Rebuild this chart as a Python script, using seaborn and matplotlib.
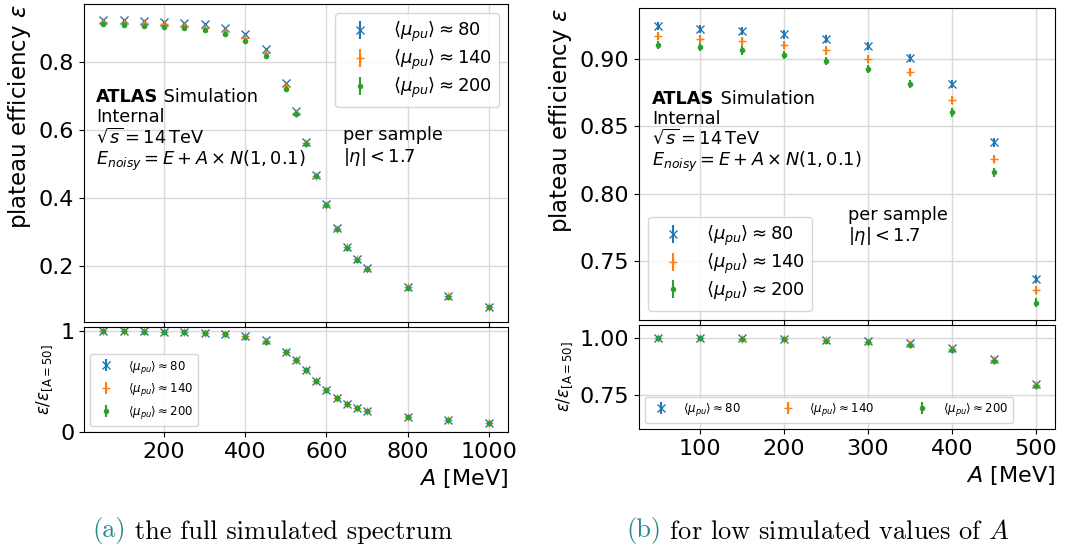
import matplotlib
matplotlib.use("Agg")
import matplotlib.pyplot as plt
import seaborn as sns
import numpy as np

# ---------------- data ----------------
A_MeV = [50, 100, 150, 200, 250, 300, 350, 400, 450, 500,
         525, 550, 575, 600, 625, 650, 675, 700, 800, 900, 1000]
eff_mu80 = [0.9243, 0.9226, 0.9206, 0.9183, 0.9149, 0.9097, 0.9005, 0.8817, 0.8380, 0.7364,
            0.656, 0.565, 0.467, 0.381, 0.310, 0.256, 0.219, 0.192, 0.138, 0.112, 0.079]
eff_mu140 = [0.9169, 0.9149, 0.9131, 0.9107, 0.9064, 0.9002, 0.8906, 0.8695, 0.8259, 0.7282,
             0.650, 0.560, 0.465, 0.379, 0.308, 0.254, 0.218, 0.191, 0.137, 0.110, 0.078]
eff_mu200 = [0.9107, 0.9087, 0.9064, 0.9032, 0.8988, 0.8923, 0.8812, 0.8603, 0.8157, 0.7190,
             0.647, 0.557, 0.463, 0.378, 0.307, 0.253, 0.217, 0.190, 0.135, 0.109, 0.078]
err_mu80 = [0.003, 0.003, 0.003, 0.003, 0.003, 0.003, 0.003, 0.003, 0.003, 0.003,
            0.003, 0.003, 0.003, 0.003, 0.003, 0.003, 0.003, 0.003, 0.003, 0.002, 0.002]
err_mu140 = [0.003, 0.003, 0.003, 0.003, 0.003, 0.003, 0.003, 0.003, 0.003, 0.003,
             0.003, 0.003, 0.003, 0.003, 0.003, 0.003, 0.003, 0.003, 0.003, 0.002, 0.002]
err_mu200 = [0.003, 0.003, 0.003, 0.003, 0.003, 0.003, 0.003, 0.003, 0.003, 0.003,
             0.003, 0.003, 0.003, 0.003, 0.003, 0.003, 0.003, 0.003, 0.003, 0.002, 0.002]
series_labels = [r"$\langle\mu_{pu}\rangle \approx 80$",
                 r"$\langle\mu_{pu}\rangle \approx 140$",
                 r"$\langle\mu_{pu}\rangle \approx 200$"]
low_A_max = 500
xticks_full = [200, 400, 600, 800, 1000]
xticks_low = [100, 200, 300, 400, 500]
caption_a = ("(a)", " the full simulated spectrum")
caption_b = ("(b)", r" for low simulated values of $A$")

# ---------------- style ----------------
sns.set_style("ticks", {"axes.edgecolor": "black", "text.color": "black",
                        "axes.labelcolor": "black", "xtick.color": "black",
                        "ytick.color": "black", "axes.grid": True,
                        "grid.color": "#d9d9d9", "grid.linestyle": "-"})
plt.rcParams["font.family"] = ["DejaVu Sans"]
plt.rcParams["mathtext.fontset"] = "dejavusans"
colors = sns.color_palette("tab10")[:3]
markers = ["x", "+", "."]

W, H = 1083, 552
fig = plt.figure(figsize=(W / 100, H / 100), dpi=100)


def px_axes(x0, x1, y0, y1):
    return fig.add_axes([x0 / W, (H - y1) / H, (x1 - x0) / W, (y1 - y0) / H])


axL = px_axes(84, 508, 4, 322)
axLr = px_axes(84, 508, 327, 432)
axR = px_axes(639, 1055, 8, 320)
axRr = px_axes(639, 1055, 325, 429)

A = np.array(A_MeV)
effs = [np.array(eff_mu80), np.array(eff_mu140), np.array(eff_mu200)]
errs = [np.array(err_mu80), np.array(err_mu140), np.array(err_mu200)]


def draw(ax, axr, mask):
    for eff, err, lab, m, c in zip(effs, errs, series_labels, markers, colors):
        ax.errorbar(A[mask], eff[mask], yerr=err[mask], fmt=m, color=c,
                    label=lab, ms=6, lw=1.5)
        axr.errorbar(A[mask], eff[mask] / eff[0], yerr=err[mask] / eff[0],
                     fmt=m, color=c, label=lab, ms=6, lw=1.5)
    for a in (ax, axr):
        a.grid(True, color="#d9d9d9", lw=1.0)
        a.set_axisbelow(True)
        a.tick_params(labelsize=16)
    ax.tick_params(labelbottom=False)


FS_TXT = 12.8


def annotate(ax, xs, ys, x2, y2):
    t = ax.text(xs, ys[0], "ATLAS", fontsize=FS_TXT, fontweight="bold",
                transform=ax.transAxes, va="baseline")
    ax.annotate(" Simulation", xy=(1, 0), xycoords=t, fontsize=FS_TXT,
                va="bottom", ha="left")
    ax.text(xs, ys[1], "Internal", fontsize=FS_TXT, transform=ax.transAxes, va="baseline")
    ax.text(xs, ys[2], r"$\sqrt{s} = 14\,\mathrm{TeV}$", fontsize=FS_TXT,
            transform=ax.transAxes, va="baseline")
    ax.text(xs, ys[3], r"$E_{noisy} = E + A \times N(1, 0.1)$", fontsize=FS_TXT,
            transform=ax.transAxes, va="baseline")
    ax.text(x2, y2[0], "per sample", fontsize=FS_TXT, transform=ax.transAxes, va="baseline")
    ax.text(x2, y2[1], r"$|\eta| < 1.7$", fontsize=FS_TXT, transform=ax.transAxes,
            va="baseline")


# ---- left ----
mask_full = np.ones(len(A), dtype=bool)
draw(axL, axLr, mask_full)
for a in (axL, axLr):
    a.set_xlim(2.5, 1047.5)
    a.set_xticks(xticks_full)
axL.set_ylim(0.034, 0.970)
axL.set_yticks([0.2, 0.4, 0.6, 0.8])
axLr.set_ylim(0, 1.04)
axLr.set_yticks([0, 1])
axL.set_ylabel(r"plateau efficiency $\varepsilon$", fontsize=16.5, loc="top")
axLr.set_ylabel(r"$\varepsilon/\varepsilon_{[\mathrm{A}=50]}$", fontsize=12)
axLr.set_xlabel(r"$A$ [MeV]", fontsize=16, loc="right")
axL.legend(loc="upper right", fontsize=13, labelspacing=0.2)
axLr.legend(loc="lower left", fontsize=8.5)
annotate(axL, 0.028, [0.693, 0.628, 0.564, 0.495], 0.611, [0.572, 0.504])

# ---- right ----
mask_low = A <= low_A_max
draw(axR, axRr, mask_low)
for a in (axR, axRr):
    a.set_xlim(27.5, 522.5)
    a.set_xticks(xticks_low)
axR.set_ylim(0.706, 0.938)
axR.set_yticks([0.75, 0.80, 0.85, 0.90])
axRr.set_ylim(0.60, 1.055)
axRr.set_yticks([0.75, 1.00])
axR.set_ylabel(r"plateau efficiency $\varepsilon$", fontsize=16.5, loc="top")
axRr.set_ylabel(r"$\varepsilon/\varepsilon_{[\mathrm{A}=50]}$", fontsize=12)
axRr.set_xlabel(r"$A$ [MeV]", fontsize=16, loc="right")
axR.legend(loc="lower left", fontsize=13, labelspacing=0.2)
axRr.legend(loc="lower left", fontsize=8.5, ncol=3, columnspacing=3.0)
annotate(axR, 0.032, [0.692, 0.627, 0.563, 0.495], 0.503, [0.3205, 0.254])

# ---- captions ----
teal = "#2b8a90"
for (lab, rest), x0 in zip([caption_a, caption_b], [92.7, 626]):
    t = fig.text(x0 / W, (H - 537) / H, lab, fontsize=19, color=teal,
                 fontfamily="cmr10", va="baseline")
    fig.add_artist(matplotlib.text.Annotation(
        rest, xy=(1, 0), xycoords=t, fontsize=19, color="black",
        fontfamily="cmr10", math_fontfamily="cm", va="bottom", ha="left",
        annotation_clip=False))

fig.savefig("out.png", dpi=100)
